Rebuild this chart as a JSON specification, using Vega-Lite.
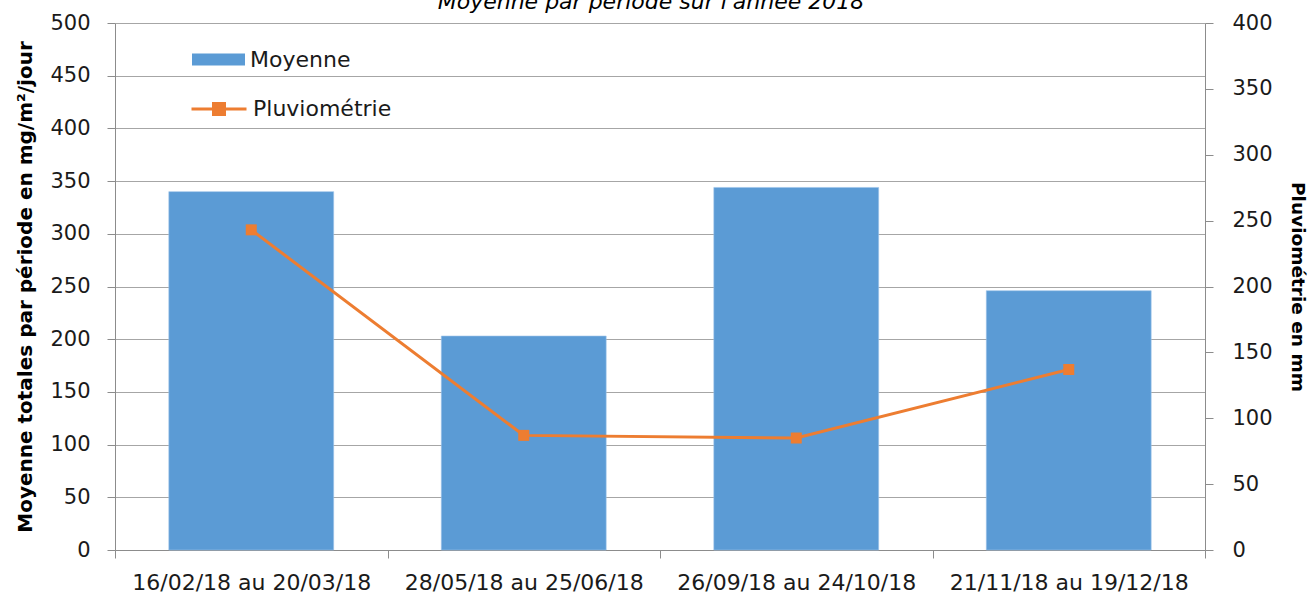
{
  "$schema": "https://vega.github.io/schema/vega-lite/v6.json",
  "autosize": {"type": "none"},
  "width": 1090,
  "height": 527,
  "padding": {"left": 115, "top": 23, "right": 108, "bottom": 49},
  "background": "white",
  "config": {
    "font": "DejaVu Sans",
    "view": {"stroke": null},
    "axis": {"labelColor": "#1a1a1a", "titleColor": "#000000", "domainColor": "#8c8c8c", "tickColor": "#8c8c8c", "labelFont": "DejaVu Sans", "titleFont": "DejaVu Sans"}
  },
  "title": {
    "text": "Moyenne par période sur l'année 2018",
    "fontStyle": "italic",
    "fontWeight": "normal",
    "fontSize": 22,
    "font": "DejaVu Sans",
    "color": "#000000",
    "anchor": "middle",
    "offset": -2,
    "dx": -9
  },
  "data": {
    "values": [
      {"period": "16/02/18 au 20/03/18", "moyenne": 340, "pluvio": 243},
      {"period": "28/05/18 au 25/06/18", "moyenne": 203, "pluvio": 87},
      {"period": "26/09/18 au 24/10/18", "moyenne": 344, "pluvio": 85},
      {"period": "21/11/18 au 19/12/18", "moyenne": 246, "pluvio": 137}
    ]
  },
  "encoding": {
    "x": {
      "field": "period",
      "type": "nominal",
      "sort": null,
      "scale": {"paddingInner": 0, "paddingOuter": 0},
      "axis": {
        "title": null,
        "labelAngle": 0,
        "labelFontSize": 22,
        "labelPadding": 14,
        "labelLimit": 0,
        "tickSize": 8,
        "tickBand": "extent",
        "domainColor": "#8c8c8c",
        "tickColor": "#8c8c8c",
        "grid": false
      }
    }
  },
  "layer": [
    {
      "mark": {"type": "bar", "width": {"band": 0.605}, "stroke": "#9cc3ea", "strokeWidth": 0.6},
      "encoding": {
        "y": {
          "field": "moyenne",
          "type": "quantitative",
          "scale": {"domain": [0, 500]},
          "axis": {
            "orient": "left",
            "values": [0, 50, 100, 150, 200, 250, 300, 350, 400, 450, 500],
            "title": "Moyenne totales par période en mg/m²/jour",
            "titleFontSize": 20,
            "titleFontWeight": "bold",
            "titlePadding": 14,
            "labelFontSize": 21,
            "labelPadding": 17,
            "tickSize": 8,
            "grid": true,
            "gridColor": "#a6a6a6",
            "gridWidth": 1
          }
        },
        "fill": {
          "datum": "Moyenne",
          "type": "nominal",
          "scale": {"range": ["#5B9BD5"]},
          "legend": {
            "orient": "none",
            "legendX": 77,
            "legendY": 10,
            "title": null,
            "padding": 0,
            "symbolType": "M-1,-0.23H1V0.23H-1Z",
            "symbolSize": 2809,
            "symbolStrokeWidth": 0,
            "labelFontSize": 22,
            "labelColor": "#1a1a1a",
            "labelOffset": 5,
            "labelFont": "DejaVu Sans"
          }
        }
      }
    },
    {
      "layer": [
        {
          "mark": {"type": "line", "strokeWidth": 3},
          "encoding": {
            "y": {
              "field": "pluvio",
              "type": "quantitative",
              "scale": {"domain": [0, 400]},
              "axis": {
                "orient": "right",
                "values": [0, 50, 100, 150, 200, 250, 300, 350, 400],
                "title": "Pluviométrie en mm",
                "titleFontSize": 18.5,
                "titleFontWeight": "bold",
                "titlePadding": 15,
                "labelFontSize": 21,
                "labelPadding": 19,
                "tickSize": 8,
                "grid": false
              }
            },
            "stroke": {
              "datum": "Pluviométrie",
              "type": "nominal",
              "scale": {"range": ["#ED7D31"]},
              "legend": {
                "orient": "none",
                "legendX": 75,
                "legendY": 57,
                "title": null,
                "padding": 0,
                "symbolType": "M-1,0H1M-0.2,-0.2H0.2V0.2H-0.2Z",
                "symbolSize": 3025,
                "symbolStrokeWidth": 3,
                "symbolFillColor": "#ED7D31",
                "labelFontSize": 22,
                "labelColor": "#1a1a1a",
                "labelOffset": 5,
                "labelFont": "DejaVu Sans"
              }
            }
          }
        },
        {
          "mark": {"type": "point", "shape": "square", "filled": true, "size": 121, "color": "#ED7D31", "opacity": 1},
          "encoding": {
            "y": {"field": "pluvio", "type": "quantitative"}
          }
        }
      ]
    }
  ],
  "resolve": {"scale": {"y": "independent"}}
}
